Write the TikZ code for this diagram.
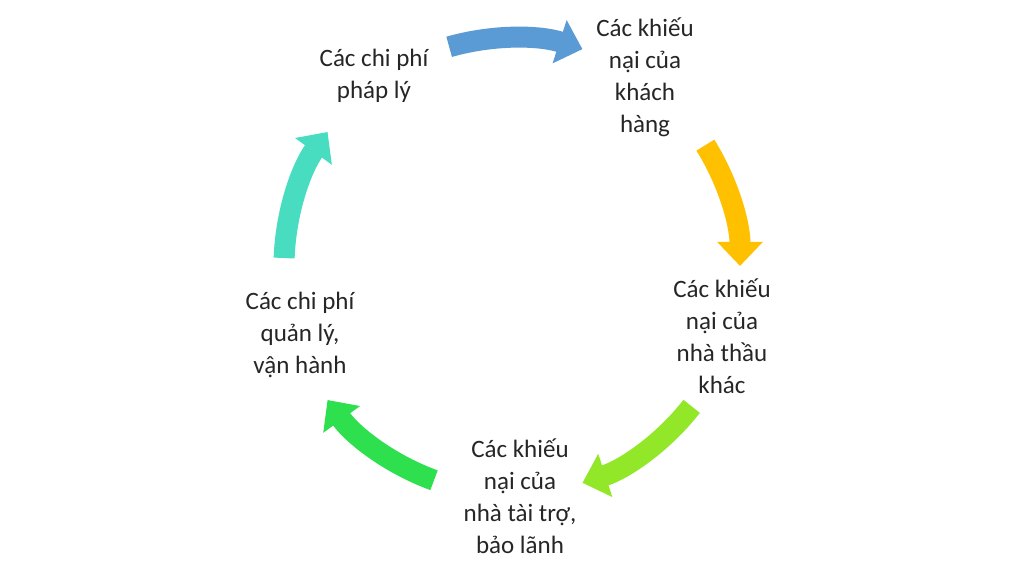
\documentclass[tikz,border=0pt]{standalone}
\usepackage{fontspec}
\setmainfont{Carlito}
\usetikzlibrary{arrows.meta}
\begin{document}
\begin{tikzpicture}[x=1bp,y=1bp,
  lbl/.style={align=center,font=\fontsize{25bp}{32bp}\selectfont,text=black!85},
  arr/.style={line width=21bp,-{Triangle[width=44bp,length=24bp]}}]
\useasboundingbox[fill=white] (0,0) rectangle (1024,576);
\coordinate (c) at (512,310);
\node[lbl] (n1) at (374,500) {Các chi phí\\pháp lý};
\node[lbl] (n2) at (645,499) {Các khiếu\\nại của\\khách\\hàng};
\node[lbl] (n3) at (722,240) {Các khiếu\\nại của\\nhà thầu\\khác};
\node[lbl] (n4) at (520,80) {Các khiếu\\nại của\\nhà tài trợ,\\bảo lãnh};
\node[lbl] (n5) at (300,241) {Các chi phí\\quản lý,\\vận hành};
\draw[arr,color={rgb,255:red,91;green,155;blue,213}] ([shift={(c)}]106:228) arc[start angle=106,end angle=72,radius=228];
\draw[arr,color={rgb,255:red,255;green,192;blue,0}] ([shift={(c)}]32:228) arc[start angle=32,end angle=0,radius=228];
\draw[arr,color={rgb,255:red,146;green,232;blue,40}] ([shift={(c)}]-38:228) arc[start angle=-38,end angle=-72,radius=228];
\draw[arr,color={rgb,255:red,46;green,224;blue,78}] ([shift={(c)}]-110:228) arc[start angle=-110,end angle=-144,radius=228];
\draw[arr,color={rgb,255:red,72;green,221;blue,192}] ([shift={(c)}]178:228) arc[start angle=178,end angle=144,radius=228];
\end{tikzpicture}
\end{document}
